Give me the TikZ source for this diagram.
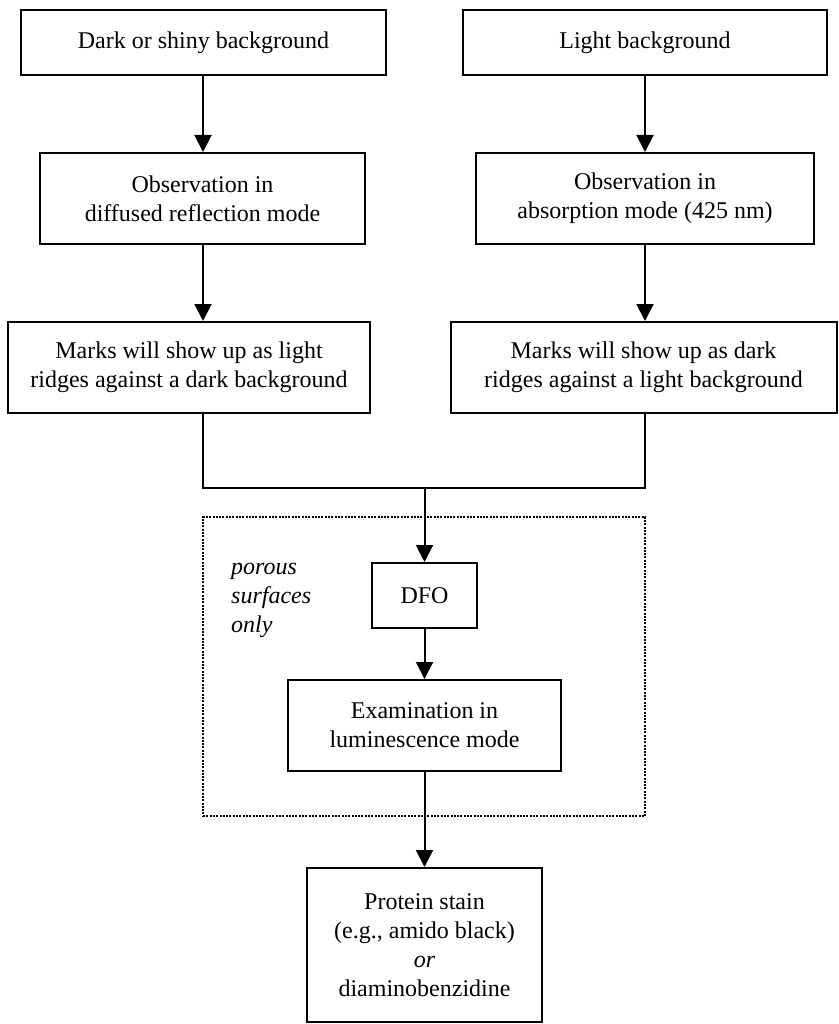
\documentclass[tikz,border=0pt]{standalone}
\usepackage{fontspec}
\setmainfont{Liberation Serif}
\usetikzlibrary{arrows.meta}
\begin{document}
\begin{tikzpicture}[x=1pt,y=-1pt,
  box/.style={draw, line width=2pt, inner sep=0pt, align=center,
    font=\fontsize{24}{28.8}\selectfont},
  arr/.style={line width=2pt, -{Triangle[length=17pt,width=17pt]}},
  ln/.style={line width=2pt},
  grpbox/.style={draw, line width=2pt, dash pattern=on 2pt off 1.3pt, inner sep=0pt}]
\useasboundingbox (0,0) rectangle (838,1024);
\coordinate (cL) at (203,0);
\coordinate (cR) at (645,0);
\coordinate (j) at (424.5,488);

\node[box, minimum width=365pt, minimum height=65pt] (b1) at (203.5,42.5) {Dark or shiny background};
\node[box, minimum width=364pt, minimum height=65pt] (b2) at (645,42.5) {Light background};
\node[box, minimum width=325pt, minimum height=91pt] (b3) at (202.5,198.5) {Observation in\\diffused reflection mode};
\node[box, minimum width=338pt, minimum height=91pt] (b4) at (645,198.5) {Observation in\\absorption mode (425 nm)};
\node[box, minimum width=362pt, minimum height=91pt] (b5) at (189,367.5) {Marks will show up as light\\ridges against a dark background};
\node[box, minimum width=386pt, minimum height=91pt] (b6) at (643.5,367.5) {Marks will show up as dark\\ridges against a light background};

\node[grpbox, minimum width=442pt, minimum height=299pt] (grp) at (424,666.5) {};
\node[anchor=base west, align=left, inner sep=0pt,
  font=\fontsize{24}{29}\selectfont\itshape] (por) at (231,632) {porous\\surfaces\\only};

\node[box, minimum width=105pt, minimum height=65pt] (dfo) at (424.5,595.5) {DFO};
\node[box, minimum width=273pt, minimum height=91pt] (exam) at (424.5,725.5) {Examination in\\luminescence mode};
\node[box, minimum width=235pt, minimum height=154pt] (prot) at (424.5,945) {Protein stain\\(e.g., amido black)\\\textit{or}\\diaminobenzidine};

\draw[arr] (b1.south -| cL) -- (b3.north -| cL);
\draw[arr] (b2.south -| cR) -- (b4.north -| cR);
\draw[arr] (b3.south -| cL) -- (b5.north -| cL);
\draw[arr] (b4.south -| cR) -- (b6.north -| cR);
\draw[ln] (b5.south -| cL) -- (cL |- j) -- (cR |- j) -- (b6.south -| cR);
\draw[arr] (j) -- (dfo.north);
\draw[arr] (dfo.south) -- (exam.north);
\draw[arr] (exam.south) -- (prot.north);
\end{tikzpicture}
\end{document}
